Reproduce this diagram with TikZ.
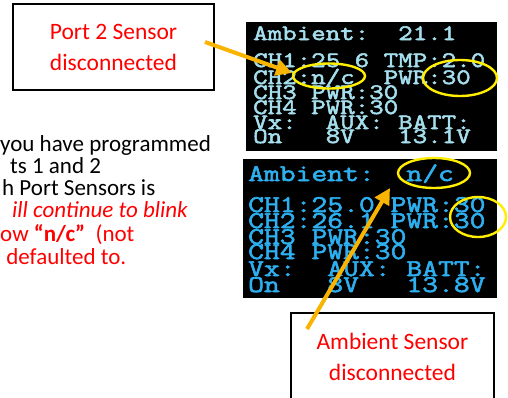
\documentclass[tikz,border=0pt]{standalone}
\usepackage{fontspec}
\setmainfont{Carlito}
\newfontfamily\oledfont{Latin Modern Mono}[FakeStretch=1.28,FakeBold=2.5]
\usetikzlibrary{arrows.meta,shapes.geometric}
\definecolor{callred}{RGB}{255,0,0}
\definecolor{arroworange}{RGB}{248,180,0}
\definecolor{ringyellow}{RGB}{255,238,0}
\definecolor{oledpale}{RGB}{165,222,236}
\definecolor{oledblue}{RGB}{45,175,240}
\begin{document}
\begin{tikzpicture}[x=1pt,y=-1pt,
  callout/.style={draw=black,line width=2pt,fill=white,align=center,text=callred,
    font=\fontsize{23.5}{31}\selectfont,inner sep=0pt},
  para/.style={anchor=base west,inner sep=0pt,font=\fontsize{23}{27}\selectfont},
  screen/.style={fill=black,draw=none,inner sep=0pt},
  topline/.style={anchor=base west,inner sep=0pt,text=oledpale,
    font=\oledfont\fontsize{22}{22}\selectfont},
  botline/.style={anchor=base west,inner sep=0pt,text=oledblue,
    font=\oledfont\fontsize{24}{24}\selectfont},
  ring/.style={ellipse,draw=ringyellow,line width=2.4pt,inner sep=0pt},
  pointer/.style={draw=arroworange,line width=4pt,-{Triangle[length=16pt,width=16pt]}}
]
\useasboundingbox (0,0) rectangle (508,397);
\clip (0,0) rectangle (508,397);

% callout boxes
\node[callout,minimum width=201pt,minimum height=86pt] (p2box) at (113.5,47) {Port 2 Sensor\\disconnected};
\node[callout,minimum width=203pt,minimum height=88pt] (ambox) at (392.5,356.5) {Ambient Sensor\\disconnected};

% paragraph (clipped at left)
\node[para] (l1) at (0,151) {you have programmed};
\node[para] (l2) at (10,173) {ts 1 and 2};
\node[para] (l3) at (2,195) {h Port Sensors is};
\node[para,text=callred] (l4) at (12,217) {\itshape ill continue to blink};
\node[para,text=callred] (l5) at (0,241) {ow \textbf{“n/c”}\ \ (not};
\node[para,text=callred] (l6) at (1,264) {\ defaulted to.};

% screens
\node[screen,minimum width=251pt,minimum height=129pt] (scr1) at (371.5,86.5) {};
\node[screen,minimum width=254pt,minimum height=139pt] (scr2) at (370,228.5) {};

% top screen text
\node[topline] (t0) at (253,40) {Ambient:~~21.1};
\node[topline] (t1) at (253,67) {CH1:25~6~TMP:2.0};
\node[topline] (t2) at (253,84) {CH2:n/c~~PWR:30};
\node[topline] (t3) at (253,99) {CH3~PWR:30};
\node[topline] (t4) at (253,114) {CH4~PWR:30};
\node[topline] (t5) at (253,129) {Vx:~~AUX:~BATT:};
\node[topline] (t6) at (253,143) {On~~~8V~~~13.1V};

% bottom screen text
\node[botline] (b0) at (248,181) {Ambient:~~n/c};
\node[botline] (b1) at (248,212) {CH1:25.0~PWR:30};
\node[botline] (b2) at (248,228) {CH2:26.1~PWR:30};
\node[botline] (b3) at (248,244) {CH3~PWR:30};
\node[botline] (b4) at (248,259) {CH4~PWR:30};
\node[botline] (b5) at (248,276) {Vx:~~AUX:~BATT:};
\node[botline] (b6) at (248,292) {On~~~8V~~~13.8V};

% yellow rings
\node[ring,minimum width=72pt,minimum height=25pt] (r1) at (329,76) {};
\node[ring,minimum width=74pt,minimum height=36pt] (r2) at (460,78) {};
\node[ring,minimum width=72pt,minimum height=30pt] (r3) at (434,173) {};
\node[ring,minimum width=56pt,minimum height=40pt] (r4) at (478,217) {};

% arrows
\coordinate (a1s) at (205,42);
\coordinate (a1t) at (292,73);
\coordinate (a2s) at (307,329);
\coordinate (a2t) at (390,188);
\draw[pointer] (a1s) -- (a1t);
\draw[pointer] (a2s) -- (a2t);
\end{tikzpicture}
\end{document}
